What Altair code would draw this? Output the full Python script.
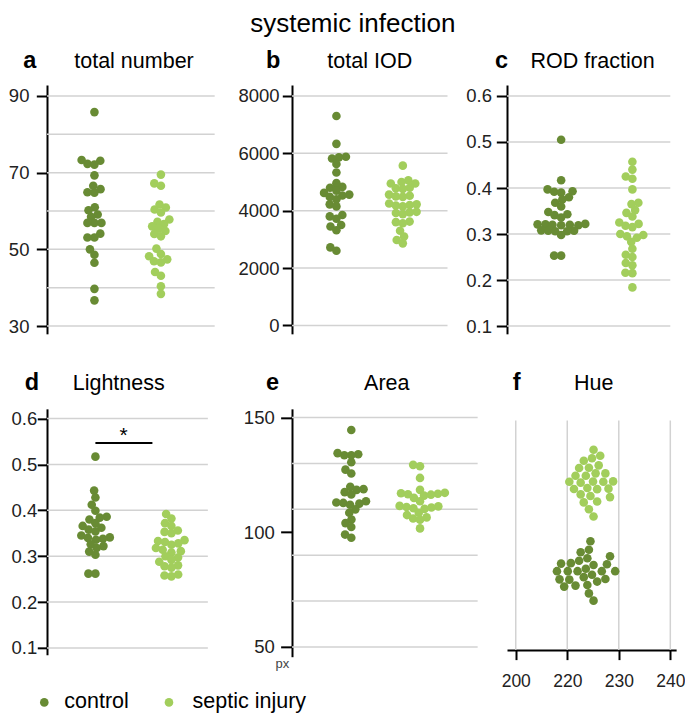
import math
import pandas as pd
import altair as alt

GROUPS = ["control", "septic injury"]
COLORS = ["#688b34", "#a2ce5c"]
TITLE = "systemic infection"
LETTERS = ["a", "b", "c", "d", "e", "f"]
NAMES = ["total number", "total IOD", "ROD fraction", "Lightness", "Area", "Hue"]

# a: total number
a_control = [85.8, 73.1, 72.3, 72.1, 73.3, 69.3, 65.7, 64.8, 64.9, 66.6, 61.0, 60.2, 59.1, 58.5,
             56.9, 56.9, 56.9, 54.1, 53.1, 53.1, 50.0, 48.6, 46.5, 39.7, 36.7]
a_septic = [69.5, 67.2, 66.6, 61.7, 60.9, 60.4, 59.6, 57.8, 57.2, 56.6, 56.0, 55.4, 54.8, 54.0,
            53.4, 50.2, 48.8, 48.2, 47.4, 46.9, 46.6, 44.1, 43.1, 40.4, 38.4]
# b: total IOD
b_control = [7300, 6330, 5880, 5860, 5820, 5630, 5330, 4960, 4830, 4800, 4700, 4620, 4560, 4530,
             4480, 4400, 4220, 4150, 3850, 3800, 3720, 3500, 3450, 3320, 2720, 2600]
b_septic = [5570, 5060, 5000, 4950, 4950, 4800, 4780, 4760, 4560, 4520, 4500, 4480, 4250, 4220,
            4200, 4180, 4150, 3960, 3940, 3920, 3880, 3620, 3600, 3560, 3300, 3100, 2980, 2860]
# c: ROD fraction
c_control = [0.505, 0.417, 0.397, 0.393, 0.392, 0.390, 0.380, 0.375, 0.368, 0.360, 0.348, 0.343,
             0.341, 0.336, 0.322, 0.321, 0.321, 0.320, 0.320, 0.319, 0.319, 0.308, 0.307, 0.307,
             0.306, 0.306, 0.298, 0.253, 0.253]
c_septic = [0.457, 0.440, 0.425, 0.420, 0.397, 0.368, 0.365, 0.352, 0.346, 0.338, 0.325, 0.322,
            0.318, 0.315, 0.300, 0.298, 0.295, 0.292, 0.283, 0.268, 0.255, 0.250, 0.237, 0.232,
            0.216, 0.215, 0.184]
# d: Lightness
d_control = [0.517, 0.443, 0.428, 0.412, 0.399, 0.386, 0.384, 0.380, 0.372, 0.366, 0.362, 0.358,
             0.354, 0.345, 0.341, 0.340, 0.338, 0.336, 0.326, 0.322, 0.318, 0.310, 0.303, 0.262,
             0.262]
d_septic = [0.392, 0.382, 0.372, 0.366, 0.356, 0.353, 0.350, 0.335, 0.333, 0.331, 0.328, 0.325,
            0.318, 0.314, 0.311, 0.308, 0.300, 0.297, 0.292, 0.288, 0.280, 0.278, 0.275, 0.260,
            0.258, 0.256]
# e: Area
e_control = [144.6, 134.0, 133.6, 133.6, 134.5, 130.5, 127.3, 125.6, 119.8, 118.8, 118.5, 117.5,
             116.5, 113.5, 113.0, 112.5, 112.8, 112.0, 110.0, 108.5, 105.6, 104.0, 102.3, 99.0, 97.6]
e_septic = [129.4, 128.8, 123.7, 118.5, 117.2, 117.0, 116.8, 116.6, 116.4, 116.0, 115.0, 113.5,
            111.5, 111.3, 111.0, 110.8, 110.5, 110.2, 108.5, 107.5, 106.5, 106.0, 105.5, 101.7]
# f: Hue
f_control = [218.0, 218.5, 218.8, 219.4, 220.1, 220.4, 220.7, 221.6, 222.0, 222.3, 222.6, 223.2,
             223.6, 223.9, 223.9, 224.2, 224.2, 224.5, 224.8, 225.1, 225.1, 225.8, 226.7, 227.4,
             227.7, 228.3, 229.3]
f_septic = [220.4, 221.3, 221.6, 222.3, 222.6, 222.6, 223.2, 223.2, 223.6, 223.9, 224.2, 224.2,
            224.5, 224.8, 225.0, 225.1, 225.1, 225.5, 225.8, 225.8, 226.1, 226.4, 227.0, 227.4,
            228.0, 228.3, 228.9]

a_grid = [30, 40, 50, 60, 70, 80, 90]
a_ticks = [30, 50, 70, 90]
b_ticks = [0, 2000, 4000, 6000, 8000]
cd_ticks = [0.1, 0.2, 0.3, 0.4, 0.5, 0.6]
e_grid = [50, 70, 90, 110, 130, 150]
e_ticks = [50, 100, 150]
f_ticks = [210, 220, 230, 240]
f_tick_labels = ["200", "220", "230", "240"]
sig_x = [0.0, 0.75]
sig_y = 0.547
sig_star_x = 0.37
sig_text = "*"
unit_text = "px"

FONT = "Liberation Sans"
SX, SY = 0.972, 0.972
DOT = 74
DIAM = 7.0
DIAM_F = 8.6
GRID = "#d2d2d2"
TICKFONT = 18.5


def swarm(pos, diam):
    order = sorted(range(len(pos)), key=lambda i: pos[i])
    placed = []
    offs = [0.0] * len(pos)
    for i in order:
        p = pos[i]
        near = [(q, o) for (q, o) in placed if abs(q - p) < diam]
        cands = [0.0]
        for q, o in near:
            dd = math.sqrt(max(diam * diam - (q - p) ** 2, 0.0))
            cands.extend([o + dd, o - dd])
        cands.sort(key=lambda c: (round(abs(c), 6), c))
        best = cands[-1]
        for c in cands:
            if all((q - p) ** 2 + (o - c) ** 2 >= diam * diam - 1e-6 for q, o in near):
                best = c
                break
        offs[i] = best
        placed.append((p, best))
    return offs


def label(text, x, y, size, weight="normal", align="left", baseline="alphabetic", color="black"):
    return alt.Chart(pd.DataFrame({"t": [text]})).mark_text(
        align=align, baseline=baseline, fontSize=size, fontWeight=weight, font=FONT, color=color
    ).encode(text="t:N", x=alt.value(x), y=alt.value(y))


color_enc = alt.Color("grp:N", scale=alt.Scale(domain=GROUPS, range=COLORS), legend=None)


def vpanel(k, ctrl, sep, left, right, top, bottom, y_hi, yp_hi, y_lo, yp_lo, c0, c1,
           grid_vals, tick_vals, fmt, tick, pad, name_cx, letter_lx, base, extras=()):
    w = SX * (right - left)
    h = SY * (bottom - top)
    p_hi = SY * (yp_hi - top)
    p_lo = SY * (yp_lo - top)
    ppu = (p_lo - p_hi) / (y_hi - y_lo)
    ydom = [y_lo - (h - p_lo) / ppu, y_hi + p_hi / ppu]
    x0 = SX * (c0 - left)
    x1 = SX * (c1 - left)
    u = x1 - x0
    xdom = [-x0 / u, (w - x0) / u]
    rows = []
    for gi, vals in enumerate((ctrl, sep)):
        pos = [(v - ydom[0]) * ppu for v in vals]
        offs = swarm(pos, DIAM)
        rows += [{"grp": GROUPS[gi], "val": v, "pos": gi + o / u} for v, o in zip(vals, offs)]
    yscale = alt.Scale(domain=ydom, nice=False, zero=False)
    xscale = alt.Scale(domain=xdom, nice=False, zero=False)
    yaxis = alt.Axis(values=tick_vals, format=fmt, grid=False, title=None, domainColor="black",
                     domainWidth=2, tickColor="black", tickWidth=2, tickSize=SX * tick,
                     labelPadding=SX * pad, labelFont=FONT, labelFontSize=TICKFONT,
                     labelColor="#222222", labelFlush=False, labelOverlap=False)
    grid = alt.Chart(pd.DataFrame({"g": grid_vals})).mark_rule(color=GRID, strokeWidth=1.5).encode(
        y=alt.Y("g:Q", scale=yscale, axis=yaxis))
    pts = alt.Chart(pd.DataFrame(rows)).mark_circle(size=DOT, opacity=1).encode(
        x=alt.X("pos:Q", scale=xscale, axis=None),
        y=alt.Y("val:Q", scale=yscale, axis=yaxis),
        color=color_enc)
    layers = [grid, pts]
    for ex in extras:
        layers.extend(ex(xscale, yscale, yaxis, left, top))
    layers.append(label(LETTERS[k], SX * (letter_lx - left), SY * (base - top), 23.5, weight="bold"))
    layers.append(label(NAMES[k], SX * (name_cx - left), SY * (base - top), 21.5, align="center"))
    return alt.layer(*layers).properties(width=w, height=h)


def main_title(xs, ys, ya, left, top):
    return [label(TITLE, SX * (353.5 - left), SY * (22 - top), 26, align="center")]


def sig_marks(xs, ys, ya, left, top):
    bar = alt.Chart(pd.DataFrame({"x1": [sig_x[0]], "x2": [sig_x[1]], "y": [sig_y]})).mark_rule(
        color="black", strokeWidth=2).encode(
        x=alt.X("x1:Q", scale=xs, axis=None), x2="x2:Q", y=alt.Y("y:Q", scale=ys, axis=ya))
    star = alt.Chart(pd.DataFrame({"x": [sig_star_x], "y": [sig_y], "t": [sig_text]})).mark_text(
        align="center", baseline="alphabetic", fontSize=21, font=FONT, color="black", dy=-1).encode(
        x=alt.X("x:Q", scale=xs, axis=None), y=alt.Y("y:Q", scale=ys, axis=ya), text="t:N")
    return [bar, star]


# legend drawn under panel d (positions in reference pixels)
LEG_DOT_X = [36.7, 165.0]
LEG_TXT_X = [57.3, 189.3]
LEG_Y = 712


def legend_marks(xs, ys, ya, left, top):
    out = []
    leg_df = pd.DataFrame({"grp": GROUPS})
    for i, g in enumerate(GROUPS):
        base = alt.Chart(leg_df).transform_filter(alt.datum.grp == g)
        out.append(base.mark_circle(size=DOT, opacity=1).encode(
            x=alt.value(SX * (LEG_DOT_X[i] - left)), y=alt.value(SY * (LEG_Y - top)), color=color_enc))
        out.append(base.mark_text(align="left", baseline="middle", fontSize=21.5, font=FONT,
                                  color="black").encode(
            x=alt.value(SX * (LEG_TXT_X[i] - left)), y=alt.value(SY * (LEG_Y - top)), text="grp:N"))
    return out


def unit_label(xs, ys, ya, left, top):
    return [label(unit_text, SX * (281 - left), SY * (677 - top), 13, align="center", color="#444444")]


pa = vpanel(0, a_control, a_septic, 39.5, 212, 77, 333, 90, 88.3, 30, 325, 88.3, 156.7,
            a_grid, a_ticks, "d", 11, 7.6, 129, 15, 59.3)
pb = vpanel(1, b_control, b_septic, 291, 451, 77, 333, 8000, 88.3, 0, 324.3, 336.7, 405,
            b_ticks, b_ticks, "d", 10, 3.3, 371, 264.3, 59.3, extras=(main_title,))
pc = vpanel(2, c_control, c_septic, 511, 679, 77, 333, 0.6, 88.3, 0.1, 325, 566.7, 640,
            cd_ticks, cd_ticks, ".1f", 11, 5, 599, 498.7, 59.3)
pd_ = vpanel(3, d_control, d_septic, 39.5, 205, 410, 663, 0.6, 420, 0.1, 656, 89.3, 167.5,
             cd_ticks, cd_ticks, ".1f", 10, 0.5, 113.3, 16.7, 391, extras=(sig_marks, legend_marks))
pe = vpanel(4, e_control, e_septic, 291, 482, 410, 665, 150, 419, 50, 655, 352, 422.7,
            e_grid, e_ticks, "d", 11.7, 6.6, 388.5, 264.3, 391, extras=(unit_label,))


def hpanel(k, ctrl, sep, left, right, top, bottom, x_lo, xp_lo, x_hi, xp_hi, cy_sep, cy_ctrl,
           grid_top, name_cx, letter_lx, base):
    w = SX * (right - left)
    h = SY * (bottom - top)
    p_lo = SX * (xp_lo - left)
    p_hi = SX * (xp_hi - left)
    ppu = (p_hi - p_lo) / (x_hi - x_lo)
    xdom = [x_lo - p_lo / ppu, x_hi + (w - p_hi) / ppu]
    ys = SY * (cy_sep - top)
    yc = SY * (cy_ctrl - top)
    u = yc - ys
    ydom = [-(h - yc) / u, 1 + ys / u]
    rows = []
    for gi, vals in enumerate((ctrl, sep)):
        pos = [(v - xdom[0]) * ppu for v in vals]
        offs = swarm(pos, DIAM_F)
        rows += [{"grp": GROUPS[gi], "val": v, "pos": gi + o / u} for v, o in zip(vals, offs)]
    xscale = alt.Scale(domain=xdom, nice=False, zero=False)
    yscale = alt.Scale(domain=ydom, nice=False, zero=False)
    expr = "".join(f"datum.value == {v} ? '{t}' : " for v, t in zip(f_ticks, f_tick_labels)) + "datum.label"
    xaxis = alt.Axis(values=f_ticks, labelExpr=expr, format="d", grid=False, title=None,
                     orient="bottom", domainColor="black", domainWidth=2, tickColor="black",
                     tickWidth=2, tickSize=SY * 10, labelPadding=SY * 13, labelFont=FONT,
                     labelFontSize=17.5, labelColor="#222222", labelFlush=False, labelOverlap=False)
    grid = alt.Chart(pd.DataFrame({"g": f_ticks})).mark_rule(color=GRID, strokeWidth=1.5).encode(
        x=alt.X("g:Q", scale=xscale, axis=xaxis), y=alt.value(SY * (grid_top - top)), y2=alt.value(h))
    pts = alt.Chart(pd.DataFrame(rows)).mark_circle(size=DOT, opacity=1).encode(
        x=alt.X("val:Q", scale=xscale, axis=xaxis),
        y=alt.Y("pos:Q", scale=yscale, axis=None),
        color=color_enc)
    layers = [grid, pts,
              label(LETTERS[k], SX * (letter_lx - left), SY * (base - top), 23.5, weight="bold"),
              label(NAMES[k], SX * (name_cx - left), SY * (base - top), 21.5, align="center")]
    return alt.layer(*layers).properties(width=w, height=h)


pf = hpanel(5, f_control, f_septic, 511, 685, 410, 658, 210, 520, 240, 679, 485, 577, 422, 600.3, 517, 391)


def spacer(w):
    return alt.Chart(pd.DataFrame({"s": [0]})).mark_point(opacity=0).encode(
        x=alt.value(0), y=alt.value(0)).properties(width=w, height=1)


# grid columns: [a/d] [gap] [b/e] [gap] [c/f]
GAP1 = SX * (291 - 212)
GAP2 = SX * (511 - 482)
chart = alt.concat(
    pa, spacer(GAP1), pb, spacer(GAP2), pc,
    pd_, spacer(GAP1), pe, spacer(GAP2), pf,
    columns=5, spacing={"row": SY * 77, "column": 0}, bounds="flush"
).properties(
    padding={"left": 0, "top": 2, "right": 0, "bottom": 0}
).configure_view(stroke=None)

chart.save("out.html", embed_options={"renderer": "svg", "actions": False})
